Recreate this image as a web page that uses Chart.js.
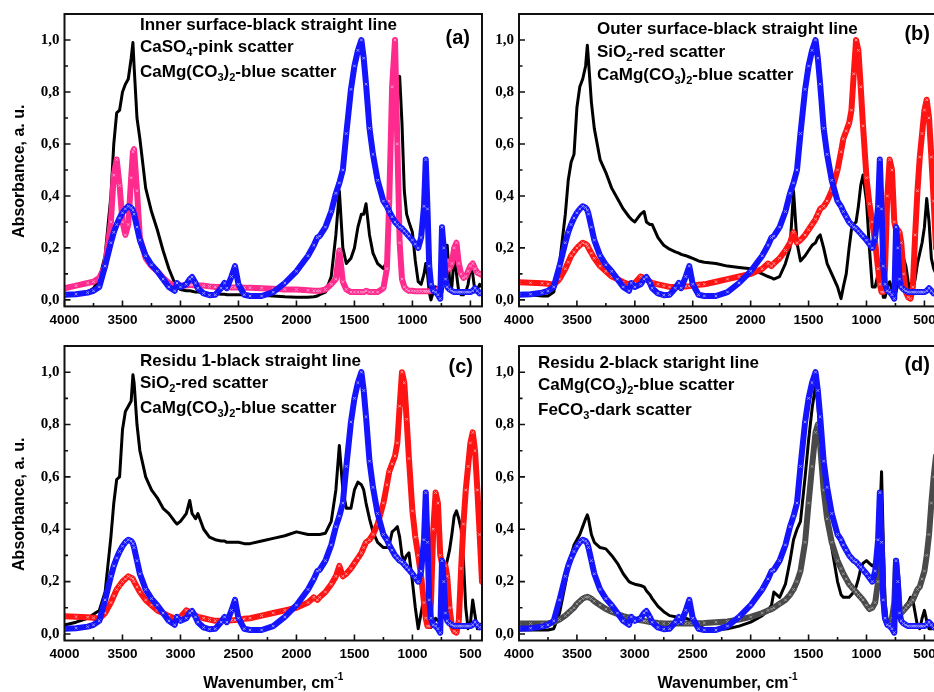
<!DOCTYPE html>
<html>
<head>
<meta charset="utf-8">
<script src="https://cdn.jsdelivr.net/npm/chart.js@4.4.1/dist/chart.umd.min.js"></script>
<style>
  html, body { margin: 0; padding: 0; background: #fff; }
  body { position: relative; width: 934px; height: 692px; overflow: hidden; }
  canvas { position: absolute; }
</style>
</head>
<body>
<canvas id="panelA" width="500" height="330" style="left:0;top:0"></canvas>
<canvas id="panelB" width="500" height="330" style="left:455px;top:0"></canvas>
<canvas id="panelC" width="500" height="362" style="left:0;top:330px"></canvas>
<canvas id="panelD" width="500" height="362" style="left:455px;top:330px"></canvas>
<script>
// wavenumber grid shared by every spectrum (cm-1)
const wavenumbers = [
  4000, 3900, 3800, 3750, 3700, 3650, 3600, 3575, 3550, 3525,
  3500, 3475, 3450, 3425, 3410, 3400, 3375, 3350, 3300, 3250,
  3200, 3150, 3100, 3050, 3030, 3000, 2950, 2920, 2900, 2870,
  2850, 2800, 2750, 2700, 2650, 2620, 2600, 2560, 2530, 2500,
  2450, 2400, 2300, 2200, 2100, 2000, 1900, 1850, 1820, 1800,
  1750, 1700, 1660, 1630, 1600, 1570, 1530, 1500, 1470, 1440,
  1420, 1400, 1370, 1340, 1300, 1250, 1220, 1200, 1175, 1150, 1130,
  1110, 1090, 1070, 1050, 1030, 1000, 975, 950, 925, 900,
  885, 870, 855, 840, 820, 800, 780, 760, 745, 730,
  715, 700, 680, 660, 640, 620, 600, 580, 560, 540,
  520, 500, 480, 460, 440, 420, 400
];

// CaMg(CO3)2 reference - blue scatter (all four panels)
const dolomite = [
  0.02, 0.022, 0.028, 0.035, 0.05, 0.13, 0.22, 0.26, 0.29, 0.315,
  0.335, 0.35, 0.36, 0.355, 0.345, 0.33, 0.28, 0.23, 0.17, 0.135,
  0.11, 0.08, 0.05, 0.035, 0.065, 0.05, 0.06, 0.08, 0.088, 0.065,
  0.045, 0.025, 0.018, 0.02, 0.045, 0.065, 0.045, 0.09, 0.13, 0.06,
  0.02, 0.015, 0.015, 0.03, 0.065, 0.11, 0.17, 0.21, 0.24, 0.245,
  0.28, 0.34, 0.41, 0.45, 0.5, 0.64, 0.81, 0.9, 0.96, 1.0,
  0.93, 0.83, 0.66, 0.56, 0.46, 0.38, 0.36, 0.34, 0.32, 0.3, 0.29,
  0.28, 0.275, 0.265, 0.255, 0.245, 0.23, 0.215, 0.2, 0.24, 0.36,
  0.54, 0.35, 0.13, 0.06, 0.035, 0.03, 0.02, 0.005, 0.28, 0.2,
  0.08, 0.05, 0.04, 0.035, 0.03, 0.03, 0.03, 0.03, 0.03, 0.03,
  0.03, 0.03, 0.035, 0.045, 0.035, 0.025, 0.03
];

// CaSO4 reference - pink scatter (a)
const gypsum = [
  0.045, 0.055, 0.065, 0.07, 0.085, 0.13, 0.3, 0.48, 0.54, 0.44,
  0.3, 0.25, 0.29, 0.47, 0.57, 0.58, 0.42, 0.24, 0.16, 0.13,
  0.11, 0.085, 0.065, 0.055, 0.055, 0.055, 0.055, 0.057, 0.057, 0.055,
  0.055, 0.055, 0.052, 0.05, 0.05, 0.05, 0.05, 0.048, 0.048, 0.048,
  0.047, 0.047, 0.045, 0.043, 0.04, 0.04, 0.037, 0.035, 0.035, 0.035,
  0.04, 0.06, 0.08, 0.19, 0.07, 0.04, 0.03, 0.03, 0.03, 0.03,
  0.03, 0.035, 0.03, 0.03, 0.03, 0.045, 0.12, 0.38, 0.82, 1.0, 0.6,
  0.22, 0.08, 0.05, 0.04, 0.035, 0.035, 0.033, 0.033, 0.033, 0.033,
  0.033, 0.033, 0.033, 0.035, 0.035, 0.035, 0.04, 0.05, 0.06, 0.08,
  0.1, 0.15, 0.12, 0.14, 0.2, 0.22, 0.14, 0.1, 0.085, 0.09,
  0.11, 0.13, 0.14, 0.12, 0.105, 0.1, 0.095
];

// SiO2 reference - red scatter (b, c)
const quartz = [
  0.068, 0.066, 0.064, 0.062, 0.058, 0.08, 0.12, 0.145, 0.17, 0.185,
  0.2, 0.21, 0.22, 0.215, 0.21, 0.2, 0.18, 0.16, 0.13, 0.11,
  0.09, 0.08, 0.068, 0.06, 0.06, 0.065, 0.09, 0.085, 0.08, 0.07,
  0.065, 0.06, 0.055, 0.05, 0.05, 0.05, 0.05, 0.052, 0.053, 0.055,
  0.058, 0.06, 0.07, 0.08, 0.09, 0.1, 0.12, 0.14, 0.13, 0.14,
  0.16, 0.19, 0.22, 0.26, 0.22, 0.23, 0.25, 0.27, 0.29, 0.31,
  0.33, 0.35, 0.36, 0.38, 0.42, 0.5, 0.57, 0.62, 0.65, 0.68, 0.73,
  0.87, 1.0, 0.96, 0.82, 0.67, 0.47, 0.37, 0.3, 0.22, 0.12,
  0.06, 0.03, 0.03, 0.12, 0.4, 0.54, 0.5, 0.3, 0.27, 0.27,
  0.26, 0.22, 0.1, 0.03, 0.01, 0.005, 0.05, 0.25, 0.42, 0.55,
  0.64, 0.73, 0.77, 0.7, 0.55, 0.38, 0.2
];

// FeCO3 reference - dark scatter (d)
const siderite = [
  0.04, 0.04, 0.04, 0.04, 0.045, 0.055, 0.07, 0.08, 0.09, 0.1,
  0.115, 0.125, 0.135, 0.14, 0.142, 0.14, 0.135, 0.125, 0.11, 0.095,
  0.085, 0.076, 0.068, 0.062, 0.06, 0.056, 0.052, 0.05, 0.048, 0.046,
  0.045, 0.042, 0.04, 0.04, 0.04, 0.04, 0.04, 0.04, 0.04, 0.04,
  0.041, 0.042, 0.045, 0.048, 0.055, 0.065, 0.08, 0.09, 0.095, 0.1,
  0.115, 0.13, 0.15, 0.17, 0.2, 0.24, 0.35, 0.5, 0.64, 0.77,
  0.8, 0.72, 0.55, 0.44, 0.35, 0.28, 0.25, 0.23, 0.21, 0.19, 0.18,
  0.17, 0.16, 0.15, 0.14, 0.13, 0.11, 0.095, 0.1, 0.12, 0.2,
  0.3, 0.35, 0.15, 0.06, 0.04, 0.04, 0.06, 0.12, 0.28, 0.2,
  0.1, 0.08, 0.09, 0.1, 0.11, 0.12, 0.13, 0.15, 0.17, 0.18,
  0.21, 0.24, 0.3, 0.38, 0.5, 0.6, 0.68
];

// samples - black straight lines
const innerSurface = [
  0.025, 0.025, 0.03, 0.045, 0.08, 0.17, 0.4, 0.6, 0.72, 0.73,
  0.8, 0.83, 0.85, 0.93, 0.99, 0.9, 0.7, 0.62, 0.43, 0.34,
  0.27, 0.19, 0.12, 0.065, 0.05, 0.04, 0.035, 0.035, 0.033, 0.03,
  0.03, 0.028, 0.025, 0.025, 0.022, 0.022, 0.02, 0.02, 0.02, 0.02,
  0.02, 0.02, 0.018, 0.015, 0.012, 0.01, 0.01, 0.012, 0.015, 0.02,
  0.03, 0.09, 0.25, 0.42, 0.2, 0.14, 0.16, 0.2, 0.28, 0.33,
  0.33, 0.37, 0.25, 0.18, 0.14, 0.12, 0.15, 0.33, 0.78, 0.82, 0.82,
  0.86, 0.68, 0.42, 0.33, 0.3, 0.26, 0.15, 0.07, 0.06, 0.1,
  0.14, 0.1, 0.03, 0.0, 0.03, 0.05, 0.02, 0.01, 0.03, 0.08,
  0.15, 0.21, 0.08, 0.05, 0.17, 0.1, 0.03, 0.02, 0.02, 0.03,
  0.06, 0.12, 0.1, 0.03, 0.04, 0.06, 0.05
];

const outerSurface = [
  0.02, 0.02, 0.015, 0.015, 0.03, 0.14, 0.33, 0.46, 0.53, 0.56,
  0.74, 0.82, 0.85, 0.9, 0.98, 0.92, 0.76, 0.66, 0.54, 0.49,
  0.43, 0.39, 0.35, 0.32, 0.31, 0.3, 0.33, 0.34, 0.3, 0.29,
  0.29, 0.24, 0.21, 0.195, 0.185, 0.18, 0.175, 0.17, 0.165, 0.16,
  0.15, 0.145, 0.14, 0.13, 0.125, 0.12, 0.1, 0.09, 0.085, 0.08,
  0.09, 0.14, 0.2, 0.42, 0.22, 0.15, 0.17, 0.19, 0.21, 0.22,
  0.24, 0.25, 0.2, 0.14, 0.1, 0.05, 0.005, 0.05, 0.1, 0.2, 0.27,
  0.29, 0.3, 0.36, 0.44, 0.48, 0.38, 0.2, 0.05, 0.05, 0.1,
  0.14, 0.08, 0.01, 0.01, 0.05, 0.07, 0.04, 0.02, 0.03, 0.06,
  0.1, 0.15, 0.16, 0.13, 0.07, 0.03, 0.04, 0.08, 0.14, 0.18,
  0.22, 0.28, 0.39, 0.3, 0.16, 0.12, 0.1
];

const residu1 = [
  0.034, 0.045, 0.06, 0.075, 0.09, 0.16, 0.37, 0.5, 0.59, 0.6,
  0.78, 0.85, 0.87, 0.89, 0.99, 0.96, 0.8, 0.7, 0.6, 0.55,
  0.52, 0.48, 0.46, 0.43, 0.42, 0.43, 0.46, 0.51, 0.46, 0.44,
  0.46, 0.4, 0.37, 0.36, 0.355, 0.355, 0.35, 0.35, 0.35, 0.35,
  0.345, 0.345, 0.355, 0.365, 0.375, 0.39, 0.38, 0.38, 0.38, 0.38,
  0.385, 0.43, 0.55, 0.72, 0.55, 0.48, 0.48, 0.55, 0.58, 0.57,
  0.55, 0.5, 0.44, 0.39, 0.35, 0.33, 0.33, 0.34, 0.39, 0.4, 0.41,
  0.37, 0.3, 0.28, 0.3, 0.31, 0.2, 0.1, 0.02, 0.08, 0.14,
  0.15, 0.1, 0.04, 0.025, 0.04, 0.06, 0.05, 0.06, 0.12, 0.2,
  0.25, 0.28, 0.32, 0.38, 0.45, 0.47, 0.44, 0.4, 0.28, 0.1,
  0.02, 0.04, 0.13, 0.07, 0.02, 0.03, 0.04
];

const residu2 = [
  0.015, 0.015, 0.015, 0.015, 0.02, 0.08, 0.19, 0.25, 0.3, 0.34,
  0.36, 0.38, 0.41, 0.44, 0.455, 0.44, 0.38, 0.35, 0.33, 0.325,
  0.3, 0.27, 0.23, 0.2, 0.195, 0.19, 0.185, 0.18, 0.165, 0.15,
  0.135, 0.105, 0.085, 0.07, 0.066, 0.062, 0.06, 0.06, 0.055, 0.045,
  0.03, 0.02, 0.015, 0.02, 0.03, 0.045, 0.07, 0.09, 0.11, 0.16,
  0.14, 0.19, 0.28, 0.36, 0.4, 0.43, 0.6, 0.74, 0.86, 0.95,
  0.88, 0.74, 0.58, 0.47, 0.33, 0.2, 0.15, 0.14, 0.14, 0.14, 0.15,
  0.16, 0.18, 0.21, 0.25, 0.27, 0.28, 0.27, 0.26, 0.27, 0.32,
  0.45, 0.62, 0.35, 0.12, 0.05, 0.03, 0.04, 0.05, 0.06, 0.07,
  0.07, 0.08, 0.09, 0.11, 0.12, 0.14, 0.13, 0.08, 0.03, 0.02,
  0.06, 0.09, 0.05, 0.02, 0.02, 0.03, 0.03
];

const xTicks = [4000, 3500, 3000, 2500, 2000, 1500, 1000, 500];
const yTicks = [0, 0.2, 0.4, 0.6, 0.8, 1.0];

const SANS = "'Liberation Sans', Arial, sans-serif";
const SERIF = "'Liberation Serif', 'Times New Roman', serif";
const BLACK = '#000000';
const BLUE = '#1414ff', BLUE_LIGHT = '#9a9aff';
const PINK = '#ff2a8e', PINK_LIGHT = '#ff9ccb';
const RED = '#ff1414', RED_LIGHT = '#ff9a9a';
const DARK = '#4a4a4a', DARK_LIGHT = '#9a9a9a';

function toPoints(values) {
  return wavenumbers.map((w, i) => ({ x: w, y: values[i] }));
}

function sampleLine(values) {
  return {
    data: toPoints(values), showLine: true, borderColor: BLACK, borderWidth: 3,
    borderJoinStyle: 'round', borderCapStyle: 'round', pointRadius: 0, order: 3
  };
}

// reference spectra: thick band with small light crosses like the original symbols
function refScatter(values, color, light, order) {
  return {
    data: toPoints(values), showLine: true, borderColor: color, borderWidth: 6,
    borderJoinStyle: 'round', borderCapStyle: 'round',
    pointStyle: 'crossRot', pointRadius: 1.8, pointBorderColor: light, pointBorderWidth: 1,
    order: order
  };
}

// draws a line of text where some runs are sub- or superscript
function richText(ctx, runs, x, y, size, align) {
  const small = Math.round(size * 0.65);
  let total = 0;
  runs.forEach(r => {
    ctx.font = 'bold ' + (r[1] ? small : size) + 'px ' + SANS;
    total += ctx.measureText(r[0]).width;
  });
  let cx = align === 'center' ? x - total / 2 : x;
  runs.forEach(r => {
    ctx.font = 'bold ' + (r[1] ? small : size) + 'px ' + SANS;
    let dy = 0;
    if (r[1] === 'sub') dy = size * 0.25;
    if (r[1] === 'sup') dy = -size * 0.45;
    ctx.fillText(r[0], cx, y + dy);
    cx += ctx.measureText(r[0]).width;
  });
}

const framePlugin = {
  id: 'frameTicks',
  afterDraw(chart) {
    const { ctx, chartArea: a, scales: { x, y } } = chart;
    ctx.save();
    ctx.strokeStyle = '#111';
    ctx.lineWidth = 1.6;
    ctx.beginPath();
    xTicks.forEach((v, i) => {
      let px = x.getPixelForValue(v);
      ctx.moveTo(px, a.bottom); ctx.lineTo(px, a.bottom - 6);
      if (i > 0) {
        px = x.getPixelForValue((v + xTicks[i - 1]) / 2);
        ctx.moveTo(px, a.bottom); ctx.lineTo(px, a.bottom - 3.5);
      }
    });
    yTicks.forEach((v, i) => {
      let py = y.getPixelForValue(v);
      ctx.moveTo(a.left, py); ctx.lineTo(a.left + 6, py);
      if (i > 0) {
        py = y.getPixelForValue((v + yTicks[i - 1]) / 2);
        ctx.moveTo(a.left, py); ctx.lineTo(a.left + 3.5, py);
      }
    });
    ctx.stroke();
    ctx.lineWidth = 2;
    ctx.strokeRect(a.left, a.top, a.right - a.left, a.bottom - a.top);
    ctx.restore();
  }
};

const textPlugin = {
  id: 'panelText',
  afterDraw(chart, args, opts) {
    const { ctx, chartArea: a } = chart;
    ctx.save();
    ctx.fillStyle = '#000';
    ctx.textBaseline = 'alphabetic';
    ctx.textAlign = 'left';
    opts.notes.forEach((line, i) => richText(ctx, line, a.left + opts.noteX, a.top + opts.noteY[i], 17, 'left'));
    ctx.font = 'bold 20px ' + SANS;
    ctx.textAlign = 'right';
    ctx.textBaseline = 'middle';
    ctx.fillText(opts.label, a.right - opts.labelDx, a.top + opts.labelDy);
    if (opts.yTitle) {
      ctx.save();
      ctx.translate(20, (a.top + a.bottom) / 2 + 11);
      ctx.rotate(-Math.PI / 2);
      ctx.textAlign = 'center';
      ctx.font = 'bold 16px ' + SANS;
      ctx.fillText('Absorbance, a. u.', 0, 0);
      ctx.restore();
    }
    if (opts.xTitle) {
      ctx.textAlign = 'left';
      ctx.textBaseline = 'alphabetic';
      richText(ctx, [['Wavenumber, cm', ''], ['-1', 'sup']], (a.left + a.right) / 2, a.bottom + 47, 16, 'center');
    }
    ctx.restore();
  }
};

function makePanel(id, datasets, axisW, axisH, pad, text) {
  return new Chart(document.getElementById(id), {
    type: 'scatter',
    data: { datasets: datasets },
    options: {
      responsive: false,
      animation: false,
      devicePixelRatio: 1,
      layout: { padding: { top: pad.top, right: pad.right, left: 0, bottom: 0 } },
      plugins: { legend: { display: false }, tooltip: { enabled: false }, panelText: text },
      scales: {
        x: {
          type: 'linear', reverse: true, min: 400, max: 4000,
          afterBuildTicks: s => { s.ticks = xTicks.map(v => ({ value: v })); },
          afterFit: s => { s.height = axisH; },
          grid: { display: false, drawTicks: false },
          border: { display: false },
          ticks: { padding: 6, autoSkip: false, maxRotation: 0, color: '#000',
                   font: { family: SANS, size: 13.5, weight: 'bold' },
                   callback: v => String(v) }
        },
        y: {
          min: -0.025, max: 1.1,
          afterBuildTicks: s => { s.ticks = yTicks.map(v => ({ value: v })); },
          afterFit: s => { s.width = axisW; },
          grid: { display: false, drawTicks: false },
          border: { display: false },
          ticks: { padding: 5, autoSkip: false, color: '#000',
                   font: { family: SERIF, size: 15, weight: 'bold' },
                   callback: v => v.toFixed(1).replace('.', ',') }
        }
      }
    },
    plugins: [framePlugin, textPlugin]
  });
}

const dolomiteNote = [['CaMg(CO', ''], ['3', 'sub'], [')', ''], ['2', 'sub'], ['-blue scatter', '']];

makePanel('panelA',
  [refScatter(dolomite, BLUE, BLUE_LIGHT, 1), refScatter(gypsum, PINK, PINK_LIGHT, 2), sampleLine(innerSurface)],
  64.5, 23.6, { top: 12, right: 18 },
  { notes: [[['Inner surface-black straight line', '']],
            [['CaSO', ''], ['4', 'sub'], ['-pink scatter', '']],
            dolomiteNote],
    noteX: 75.5, noteY: [16, 38, 63], label: '(a)', labelDx: 12, labelDy: 24, yTitle: true, xTitle: false });

makePanel('panelB',
  [refScatter(dolomite, BLUE, BLUE_LIGHT, 1), refScatter(quartz, RED, RED_LIGHT, 2), sampleLine(outerSurface)],
  64, 23.6, { top: 12, right: 19 },
  { notes: [[['Outer surface-black straight line', '']],
            [['SiO', ''], ['2', 'sub'], ['-red scatter', '']],
            dolomiteNote],
    noteX: 78, noteY: [20, 43, 66], label: '(b)', labelDx: 6, labelDy: 20, yTitle: false, xTitle: false });

makePanel('panelC',
  [refScatter(dolomite, BLUE, BLUE_LIGHT, 1), refScatter(quartz, RED, RED_LIGHT, 2), sampleLine(residu1)],
  64.5, 51.5, { top: 16, right: 18 },
  { notes: [[['Residu 1-black straight line', '']],
            [['SiO', ''], ['2', 'sub'], ['-red scatter', '']],
            dolomiteNote],
    noteX: 75.5, noteY: [20, 42, 67], label: '(c)', labelDx: 9, labelDy: 21, yTitle: true, xTitle: true });

makePanel('panelD',
  [refScatter(dolomite, BLUE, BLUE_LIGHT, 1), refScatter(siderite, DARK, DARK_LIGHT, 2), sampleLine(residu2)],
  64, 51.5, { top: 16, right: 19 },
  { notes: [[['Residu 2-black staright line', '']],
            dolomiteNote,
            [['FeCO', ''], ['3', 'sub'], ['-dark scatter', '']]],
    noteX: 19, noteY: [22, 44, 69], label: '(d)', labelDx: 6, labelDy: 19, yTitle: false, xTitle: true });
</script>
</body>
</html>
